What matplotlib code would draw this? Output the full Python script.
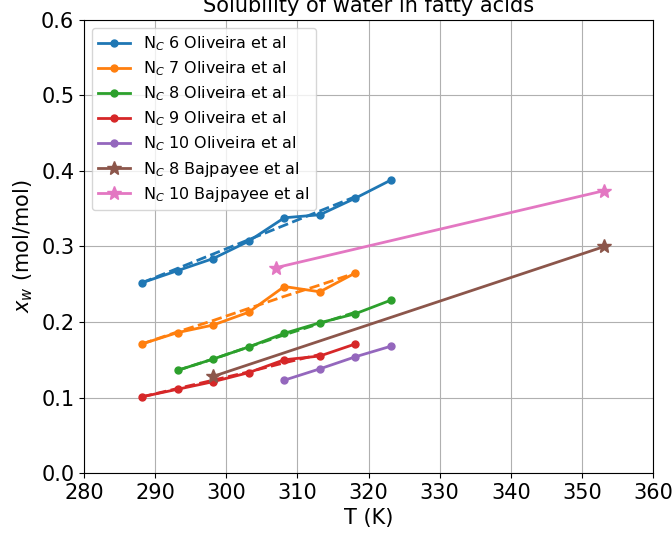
import matplotlib
matplotlib.use("Agg")
import matplotlib.pyplot as plt

T = [288.15, 293.15, 298.15, 303.15, 308.15, 313.15, 318.15, 323.15]

nc6_T = T
nc6_x = [0.252, 0.268, 0.284, 0.307, 0.338, 0.342, 0.364, 0.388]
nc6_fit = [0.252, 0.271, 0.290, 0.309, 0.328, 0.347, 0.366]

nc7_T = T[:7]
nc7_x = [0.171, 0.186, 0.196, 0.213, 0.247, 0.240, 0.265]
nc7_fit = [0.171, 0.187, 0.202, 0.218, 0.234, 0.249, 0.265]

nc8_T = T[1:]
nc8_x = [0.136, 0.151, 0.167, 0.185, 0.199, 0.211, 0.229]
nc8_fit = [0.136, 0.151, 0.167, 0.183, 0.198, 0.213]

nc9_T = T[:7]
nc9_x = [0.101, 0.111, 0.121, 0.133, 0.150, 0.155, 0.171]
nc9_fit = [0.101, 0.112, 0.123, 0.134, 0.146, 0.157]

nc10_T = T[4:]
nc10_x = [0.123, 0.138, 0.154, 0.168]

baj8_T = [298.15, 353.15]
baj8_x = [0.128, 0.300]
baj10_T = [307.0, 353.15]
baj10_x = [0.272, 0.374]

fig = plt.figure(figsize=(6.72, 5.37), dpi=100)
ax = fig.add_axes([0.125, 0.119, 0.847, 0.844])

series = [
    (nc6_T, nc6_x, nc6_fit, "N$_C$ 6 Oliveira et al", "C0"),
    (nc7_T, nc7_x, nc7_fit, "N$_C$ 7 Oliveira et al", "C1"),
    (nc8_T, nc8_x, nc8_fit, "N$_C$ 8 Oliveira et al", "C2"),
    (nc9_T, nc9_x, nc9_fit, "N$_C$ 9 Oliveira et al", "C3"),
    (nc10_T, nc10_x, None, "N$_C$ 10 Oliveira et al", "C4"),
]
for t, x, fit, lab, c in series:
    ax.plot(t, x, "-o", color=c, lw=2, ms=5, label=lab)
    if fit is not None:
        ax.plot(t[:len(fit)], fit, "--", color=c, lw=2)

ax.plot(baj8_T, baj8_x, "-*", color="C5", lw=2, ms=10, label="N$_C$ 8 Bajpayee et al")
ax.plot(baj10_T, baj10_x, "-*", color="C6", lw=2, ms=10, label="N$_C$ 10 Bajpayee et al")

ax.set_xlim(280, 360)
ax.set_ylim(0, 0.6)
ax.set_xticks(range(280, 361, 10))
ax.set_yticks([0.0, 0.1, 0.2, 0.3, 0.4, 0.5, 0.6])
ax.tick_params(labelsize=15)
ax.set_xlabel("T (K)", fontsize=15)
ax.set_ylabel("$x_w$ (mol/mol)", fontsize=15)
ax.set_title("Solubility of water in fatty acids", fontsize=15)
ax.grid(True)
ax.legend(loc="upper left", fontsize=11.5, labelspacing=0.4)

fig.savefig("out.png", dpi=100)
